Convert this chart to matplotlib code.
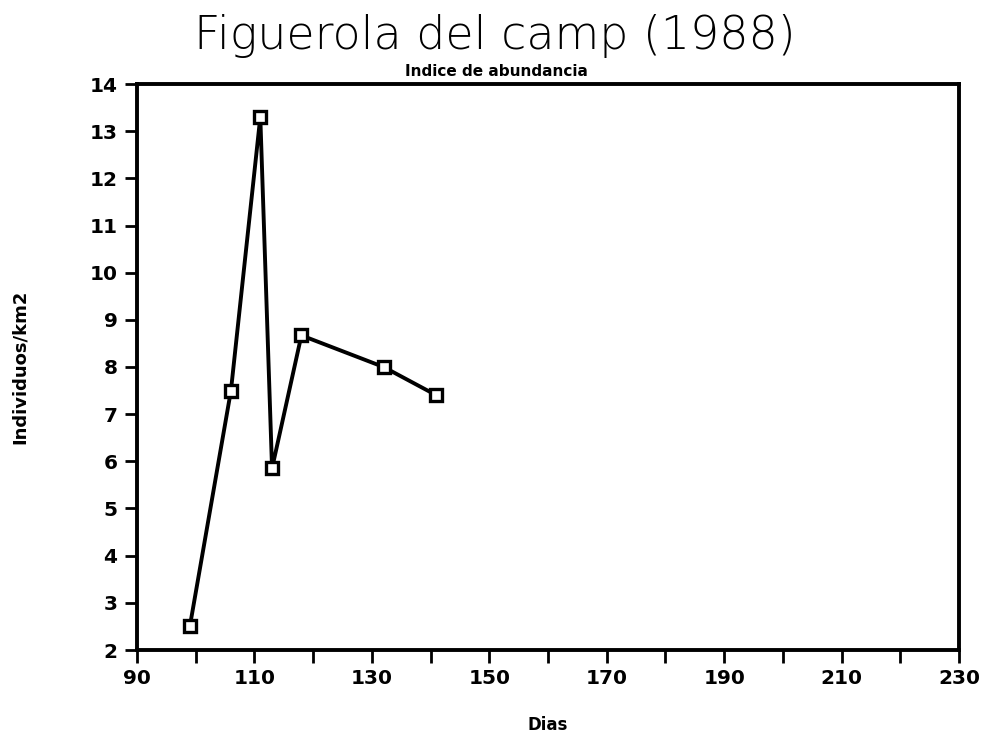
import matplotlib
matplotlib.use("Agg")
import matplotlib.pyplot as plt

# Censo: día del año y densidad (individuos/km2)
dias = [99, 106, 111, 113, 118, 132, 141]
densidad = [2.5, 7.5, 13.3, 5.85, 8.67, 8.0, 7.4]

x_ticks = list(range(90, 231, 10))
x_labels = [str(v) if (v - 90) % 20 == 0 else "" for v in x_ticks]
y_ticks = list(range(2, 15))

fig = plt.figure(figsize=(9.89, 7.36), dpi=100)
ax = fig.add_axes([137 / 989, 1 - 650 / 736, (959 - 137) / 989, (650 - 84) / 736])

ax.plot(dias, densidad, color="black", linewidth=2.8,
        marker="s", markersize=8, markerfacecolor="white",
        markeredgecolor="black", markeredgewidth=2.4)

ax.set_xlim(90, 230)
ax.set_ylim(2, 14)
ax.set_xticks(x_ticks)
ax.set_xticklabels(x_labels)
ax.set_yticks(y_ticks)

for s in ax.spines.values():
    s.set_linewidth(2.8)

ax.tick_params(direction="out", length=9, width=2, labelsize=14.5, pad=5)
for lbl in ax.get_xticklabels() + ax.get_yticklabels():
    lbl.set_fontweight("bold")

ax.set_xlabel("Dias", fontsize=12, fontweight="bold", labelpad=20)
ax.set_ylabel("Individuos/km2", fontsize=13, fontweight="bold", labelpad=44)

fig.text(0.5, 1 - 36 / 736, "Figuerola del camp (1988)", ha="center", va="center",
         fontsize=33, family="DejaVu Sans", fontweight="light")
fig.text(0.502, 1 - 71 / 736, "Indice de abundancia", ha="center", va="center",
         fontsize=11, fontweight="bold")

fig.savefig("out.png", dpi=100)
